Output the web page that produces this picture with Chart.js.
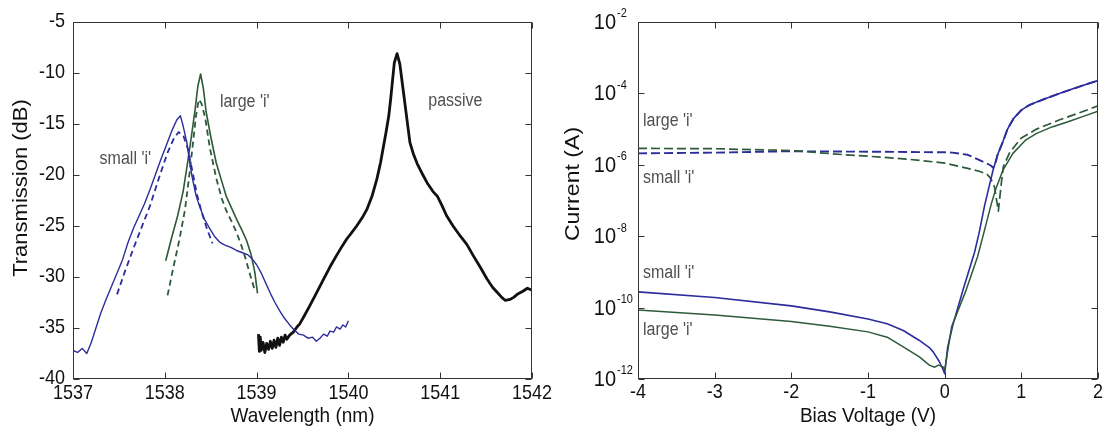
<!DOCTYPE html>
<html>
<head>
<meta charset="utf-8">
<script src="https://cdn.jsdelivr.net/npm/chart.js@4.4.1/dist/chart.umd.min.js"></script>
<style>
  html, body { margin: 0; padding: 0; background: #fff; }
  #wrap { position: relative; width: 1104px; height: 427px; overflow: hidden; background: #fff; }
  canvas { position: absolute; top: 0; }
  #spec { left: 0; }
  #iv { left: 560px; }
</style>
</head>
<body>
<div id="wrap">
  <canvas id="spec" width="560" height="427"></canvas>
  <canvas id="iv" width="544" height="427"></canvas>
</div>
<script>
// ---------- Transmission spectra (left panel) ----------
const wlTicks = [1537, 1538, 1539, 1540, 1541, 1542];
const dbTicks = [-40, -35, -30, -25, -20, -15, -10, -5];

const passiveWl = [1539.02, 1539.03, 1539.04, 1539.05, 1539.07, 1539.09, 1539.11, 1539.13, 1539.15, 1539.17,
  1539.19, 1539.21, 1539.23, 1539.25, 1539.27, 1539.29, 1539.31, 1539.33, 1539.36, 1539.40,
  1539.44, 1539.47, 1539.52, 1539.58, 1539.65, 1539.73, 1539.80, 1539.87, 1539.93, 1539.98,
  1540.04, 1540.09, 1540.15, 1540.20, 1540.26, 1540.31, 1540.35, 1540.38, 1540.41, 1540.44,
  1540.46, 1540.48, 1540.50, 1540.53, 1540.56, 1540.59, 1540.62, 1540.65, 1540.67, 1540.71,
  1540.75, 1540.80, 1540.86, 1540.92, 1540.97, 1541.02, 1541.07, 1541.14, 1541.22, 1541.29,
  1541.36, 1541.44, 1541.51, 1541.57, 1541.62, 1541.67, 1541.71, 1541.76, 1541.80, 1541.84,
  1541.90, 1541.95, 1542.00];
const passiveDb = [-35.6, -37.3, -35.9, -37.2, -36.4, -37.4, -36.5, -37.1, -36.3, -37.0,
  -36.2, -36.9, -36.0, -36.7, -35.9, -36.4, -35.7, -36.1, -35.7, -35.4,
  -34.9, -34.6, -33.8, -32.8, -31.6, -30.2, -29.0, -27.9, -27.0, -26.3,
  -25.6, -25.0, -24.2, -23.4, -22.0, -20.4, -18.8, -17.3, -15.8, -14.2,
  -12.6, -10.8, -9.0, -8.1, -9.1, -11.2, -13.3, -15.4, -16.8, -18.0,
  -18.9, -19.8, -20.8, -21.6, -22.1, -23.0, -24.0, -25.0, -26.0, -26.8,
  -27.9, -29.1, -30.2, -31.0, -31.5, -32.0, -32.3, -32.2, -32.0, -31.7,
  -31.4, -31.1, -31.3];

const smallSolidWl = [1537.00, 1537.05, 1537.10, 1537.15, 1537.20, 1537.25, 1537.30, 1537.36, 1537.42, 1537.48,
  1537.54, 1537.60, 1537.66, 1537.72, 1537.78, 1537.84, 1537.90, 1537.96, 1538.02, 1538.08,
  1538.13, 1538.17, 1538.20, 1538.24, 1538.27, 1538.30, 1538.34, 1538.38, 1538.43, 1538.48,
  1538.54, 1538.60, 1538.66, 1538.72, 1538.78, 1538.84, 1538.90, 1538.95, 1539.00, 1539.05,
  1539.10, 1539.15, 1539.20, 1539.25, 1539.30, 1539.36, 1539.41, 1539.46, 1539.51, 1539.56,
  1539.61, 1539.65, 1539.69, 1539.73, 1539.77, 1539.80, 1539.84, 1539.87, 1539.91, 1539.94,
  1539.97, 1540.00];
const smallSolidDb = [-37.2, -37.4, -37.0, -37.5, -36.4, -35.0, -33.6, -32.2, -30.9, -29.6,
  -28.3, -26.6, -25.2, -24.0, -22.8, -21.4, -19.9, -18.4, -17.0, -15.6,
  -14.6, -14.2, -15.2, -16.8, -18.7, -20.3, -22.0, -23.1, -24.3, -25.1,
  -26.0, -26.6, -26.9, -27.1, -27.4, -27.6, -27.8, -28.2, -28.8, -29.6,
  -30.6, -31.6, -32.5, -33.3, -34.0, -34.7, -35.2, -35.6, -35.7, -36.0,
  -35.9, -36.3, -36.0, -35.6, -35.8, -35.3, -35.4, -34.9, -35.1, -34.7,
  -34.9, -34.3];

const smallDashWl = [1537.48, 1537.56, 1537.65, 1537.74, 1537.84, 1537.94, 1538.03, 1538.10, 1538.15, 1538.20,
  1538.25, 1538.30, 1538.35, 1538.40, 1538.46, 1538.52];
const smallDashDb = [-31.7, -29.6, -27.4, -25.3, -23.0, -20.2, -17.8, -16.4, -15.8, -16.1,
  -17.4, -19.6, -21.9, -23.6, -25.3, -26.7];

const largeSolidWl = [1538.01, 1538.07, 1538.14, 1538.20, 1538.25, 1538.29, 1538.33, 1538.36, 1538.39, 1538.42,
  1538.45, 1538.50, 1538.56, 1538.62, 1538.67, 1538.73, 1538.78, 1538.84, 1538.89, 1538.94,
  1538.98, 1539.01];
const largeSolidDb = [-28.4, -26.3, -24.0, -21.6, -18.7, -16.2, -13.6, -11.3, -10.1, -11.5,
  -13.8, -16.2, -18.8, -20.6, -22.1, -23.3, -24.3, -25.4, -26.4, -27.8,
  -29.5, -31.6];

const largeDashWl = [1538.03, 1538.09, 1538.16, 1538.22, 1538.27, 1538.31, 1538.34, 1538.37, 1538.40, 1538.44,
  1538.49, 1538.56, 1538.62, 1538.67, 1538.73, 1538.78, 1538.83, 1538.88, 1538.93, 1538.98];
const largeDashDb = [-31.8, -29.2, -26.3, -23.4, -19.8, -16.6, -14.2, -12.6, -13.0, -14.4,
  -17.3, -20.3, -22.3, -23.5, -24.6, -25.6, -26.8, -28.2, -29.8, -31.3];

const specNoteText = ["small 'i'", "large 'i'", "passive"];
const specNoteWl = [1537.29, 1538.60, 1540.87];
const specNoteDb = [-18.4, -12.9, -12.8];

// ---------- Current vs bias (right panel) ----------
const biasTicks = [-4, -3, -2, -1, 0, 1, 2];
const currentTicks = [1e-12, 1e-10, 1e-8, 1e-6, 1e-4, 1e-2];
const currentTickExp = ['-12', '-10', '-8', '-6', '-4', '-2'];

const smallDarkV = [-4, -3, -2, -1.5, -1, -0.75, -0.54, -0.33, -0.2, -0.15,
  -0.07, -0.02, 0, 0.04, 0.11, 0.24, 0.39, 0.45, 0.52, 0.585,
  0.63, 0.69, 0.76, 0.82, 0.9, 1.0, 1.1, 1.2, 1.31, 1.54,
  1.77, 2.0];
const smallDarkA = [2.75e-10, 1.91e-10, 1.12e-10, 7.59e-11, 4.79e-11, 3.55e-11, 2.29e-11, 1.20e-11, 7.59e-12, 5.75e-12,
  3.09e-12, 1.82e-12, 1.41e-12, 7.94e-12, 3.47e-11, 3.16e-10, 3.55e-9, 1.26e-8, 7.08e-8, 2.75e-7,
  6.92e-7, 1.91e-6, 4.47e-6, 1.0e-5, 2.0e-5, 3.39e-5, 4.68e-5, 5.75e-5, 7.08e-5, 1.07e-4,
  1.58e-4, 2.29e-4];

const largeDarkV = [-4, -3, -2, -1.5, -1, -0.75, -0.54, -0.33, -0.2, -0.13,
  -0.08, -0.02, 0, 0.09, 0.28, 0.43, 0.52, 0.61, 0.67, 0.76,
  0.89, 1.06, 1.2, 1.4, 1.6, 1.8, 2.0];
const largeDarkA = [8.51e-11, 6.17e-11, 4.07e-11, 3.02e-11, 2.09e-11, 1.48e-11, 7.94e-12, 4.17e-12, 2.45e-12, 2.14e-12,
  2.45e-12, 2.19e-12, 1.78e-12, 2.88e-11, 3.09e-10, 2.69e-9, 1.48e-8, 8.32e-8, 2.19e-7, 7.08e-7,
  2.09e-6, 5.01e-6, 7.59e-6, 1.15e-5, 1.58e-5, 2.24e-5, 3.16e-5];

const smallLightV = [-4, -3, -2, -1.2, -0.5, 0, 0.1, 0.3, 0.455, 0.54,
  0.6, 0.63, 0.66, 0.69, 0.76, 0.82, 0.9, 1.0, 1.1, 1.2,
  1.31, 1.54, 1.77, 2.0];
const smallLightA = [2.09e-6, 2.19e-6, 2.40e-6, 2.34e-6, 2.29e-6, 2.24e-6, 2.19e-6, 1.91e-6, 1.35e-6, 1.12e-6,
  9.55e-7, 8.32e-7, 1.05e-6, 1.91e-6, 4.47e-6, 1.0e-5, 2.0e-5, 3.39e-5, 4.68e-5, 5.75e-5,
  7.08e-5, 1.07e-4, 1.58e-4, 2.29e-4];

const largeLightV = [-4, -3, -2, -1.3, -1, -0.5, 0, 0.1, 0.3, 0.45,
  0.55, 0.6, 0.65, 0.70, 0.74, 0.765, 0.85, 1.0, 1.2, 1.5,
  1.75, 2.0];
const largeLightA = [2.88e-6, 2.82e-6, 2.51e-6, 1.91e-6, 1.74e-6, 1.45e-6, 1.12e-6, 1.0e-6, 7.94e-7, 6.61e-7,
  5.50e-7, 4.17e-7, 2.40e-7, 5.01e-8, 3.16e-7, 8.91e-7, 2.24e-6, 5.62e-6, 1.0e-5, 1.82e-5,
  2.82e-5, 4.47e-5];

const ivNoteText = ["large 'i'", "small 'i'", "small 'i'", "large 'i'"];
const ivNoteV = [-3.935, -3.935, -3.935, -3.935];
const ivNoteA = [1.62e-5, 4.17e-7, 9.12e-10, 2.34e-11];

// ---------- styling ----------
const FONT = '"Liberation Sans", Arial, Helvetica, sans-serif';
const STRETCH = 1.1;          // glyphs are drawn slightly taller than wide
const BLUE = '#2c2c9c';
const GREEN = '#2c5a3a';
const INK = '#111111';
const NOTE = '#505050';
const TICK_LEN = 6;

function pts(xs, ys) { return xs.map((x, i) => ({ x, y: ys[i] })); }

function text(ctx, str, x, y, size, align, color, rotate) {
  ctx.save();
  ctx.translate(x, y);
  ctx.scale(1, STRETCH);
  if (rotate) ctx.rotate(-Math.PI / 2);
  ctx.font = size + 'px ' + FONT;
  ctx.fillStyle = color || INK;
  ctx.textAlign = align;
  ctx.textBaseline = 'middle';
  ctx.fillText(str, 0, 0);
  ctx.restore();
}

function frame(ctx, a, xs, ys) {
  ctx.save();
  ctx.strokeStyle = '#333';
  ctx.lineWidth = 1;
  const L = Math.round(a.left) + 0.5, R = Math.round(a.right) - 0.5;
  const T = Math.round(a.top) + 0.5, B = Math.round(a.bottom) - 0.5;
  ctx.strokeRect(L, T, R - L, B - T);
  ctx.beginPath();
  xs.ticks.forEach(t => {
    const p = Math.round(xs.getPixelForValue(t.value)) + 0.5;
    ctx.moveTo(p, B); ctx.lineTo(p, B - TICK_LEN);
    ctx.moveTo(p, T); ctx.lineTo(p, T + TICK_LEN);
  });
  ys.ticks.forEach(t => {
    const p = Math.round(ys.getPixelForValue(t.value)) + 0.5;
    ctx.moveTo(L, p); ctx.lineTo(L + TICK_LEN, p);
    ctx.moveTo(R, p); ctx.lineTo(R - TICK_LEN, p);
  });
  ctx.stroke();
  ctx.restore();
}

function line(data, color, width, dash) {
  return {
    data, borderColor: color, borderWidth: width, borderDash: dash || [],
    pointRadius: 0, tension: 0, fill: false, borderJoinStyle: 'round', borderCapStyle: 'butt'
  };
}

function fixedAxis(size, isX, tickValues) {
  return {
    ticks: { display: false },
    grid: { display: false, drawTicks: false },
    border: { display: false },
    afterBuildTicks: s => { s.ticks = tickValues.map(v => ({ value: v })); },
    afterFit: s => {
      if (isX) { s.height = size; s.paddingLeft = 0; s.paddingRight = 0; }
      else { s.width = size; s.paddingTop = 0; s.paddingBottom = 0; }
    }
  };
}

Chart.defaults.font.family = FONT;

// ---------- left chart ----------
const specDecor = {
  id: 'specDecor',
  afterDraw(chart) {
    const { ctx, chartArea: a, scales: { x, y } } = chart;
    frame(ctx, a, x, y);
    wlTicks.forEach(v => text(ctx, String(v), x.getPixelForValue(v), 394, 18, 'center'));
    dbTicks.forEach(v => text(ctx, String(v), a.left - 8, y.getPixelForValue(v), 18, 'right'));
    text(ctx, 'Wavelength (nm)', (a.left + a.right) / 2, 416, 19, 'center');
    text(ctx, 'Transmission (dB)', 21, 188, 20, 'center', INK, true);
    specNoteText.forEach((s, i) =>
      text(ctx, s, x.getPixelForValue(specNoteWl[i]), y.getPixelForValue(specNoteDb[i]), 16, 'left', NOTE));
  }
};

new Chart(document.getElementById('spec'), {
  type: 'line',
  data: {
    datasets: [
      line(pts(smallSolidWl, smallSolidDb), BLUE, 1.4),
      line(pts(smallDashWl, smallDashDb), BLUE, 1.8, [6, 4]),
      line(pts(largeSolidWl, largeSolidDb), GREEN, 1.6),
      line(pts(largeDashWl, largeDashDb), GREEN, 1.8, [6, 4]),
      line(pts(passiveWl, passiveDb), '#111111', 2.8)
    ]
  },
  options: {
    responsive: false, animation: false, devicePixelRatio: 1, events: [],
    layout: { padding: { left: 0, top: 22, right: 28, bottom: 0 } },
    plugins: { legend: { display: false }, tooltip: { enabled: false } },
    scales: {
      x: Object.assign({ type: 'linear', min: 1537, max: 1542 }, fixedAxis(48, true, wlTicks)),
      y: Object.assign({ type: 'linear', min: -40, max: -5 }, fixedAxis(73, false, dbTicks))
    }
  },
  plugins: [specDecor]
});

// ---------- right chart ----------
const ivDecor = {
  id: 'ivDecor',
  afterDraw(chart) {
    const { ctx, chartArea: a, scales: { x, y } } = chart;
    frame(ctx, a, x, y);
    biasTicks.forEach(v => text(ctx, String(v), x.getPixelForValue(v), 393, 18, 'center'));
    currentTicks.forEach((v, i) => {
      const py = y.getPixelForValue(v);
      text(ctx, '10', a.left - 22, py + 1, 20, 'right');
      text(ctx, currentTickExp[i], a.left - 21, py - 8, 11, 'left');
    });
    text(ctx, 'Bias Voltage (V)', (a.left + a.right) / 2, 416, 19, 'center');
    text(ctx, 'Current (A)', 13, 184, 21, 'center', INK, true);
    ivNoteText.forEach((s, i) =>
      text(ctx, s, x.getPixelForValue(ivNoteV[i]), y.getPixelForValue(ivNoteA[i]), 16, 'left', NOTE));
  }
};

new Chart(document.getElementById('iv'), {
  type: 'line',
  data: {
    datasets: [
      line(pts(largeDarkV, largeDarkA), GREEN, 1.5),
      line(pts(smallDarkV, smallDarkA), BLUE, 1.6),
      line(pts(largeLightV, largeLightA), GREEN, 1.7, [9, 4]),
      line(pts(smallLightV, smallLightA), BLUE, 1.9, [9, 4])
    ]
  },
  options: {
    responsive: false, animation: false, devicePixelRatio: 1, events: [],
    layout: { padding: { left: 0, top: 22, right: 6, bottom: 0 } },
    plugins: { legend: { display: false }, tooltip: { enabled: false } },
    scales: {
      x: Object.assign({ type: 'linear', min: -4, max: 2 }, fixedAxis(48, true, biasTicks)),
      y: Object.assign({ type: 'logarithmic', min: 1e-12, max: 1e-2 }, fixedAxis(78, false, currentTicks))
    }
  },
  plugins: [ivDecor]
});
</script>
</body>
</html>
